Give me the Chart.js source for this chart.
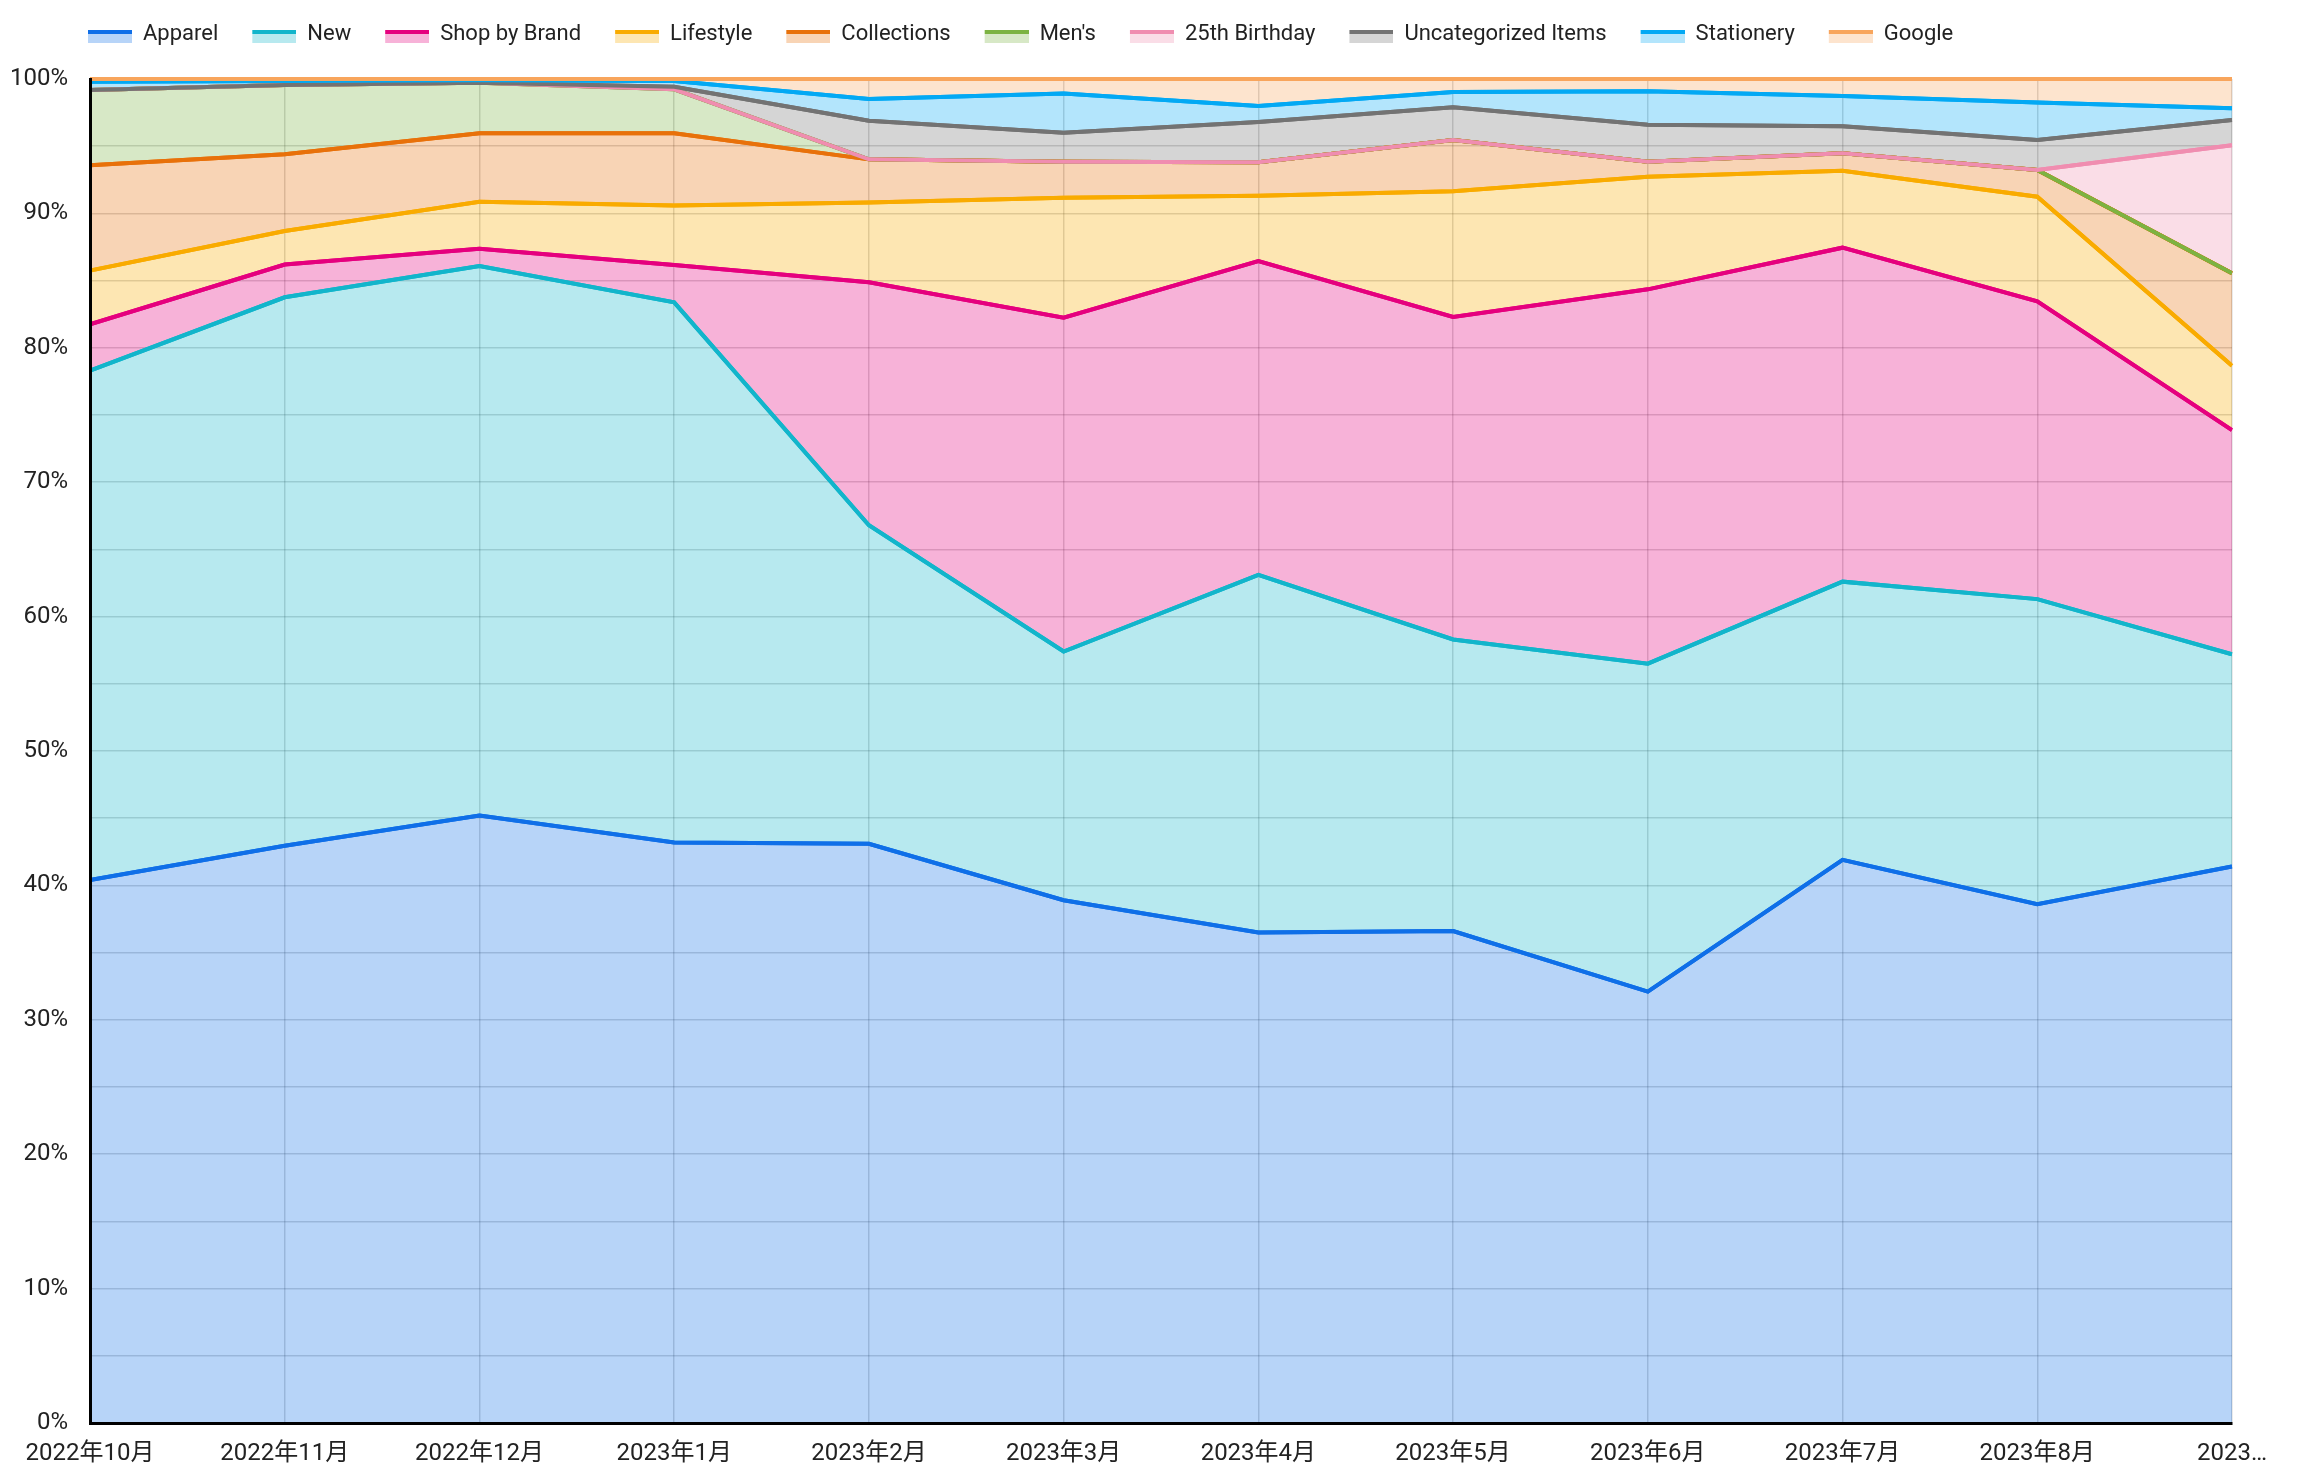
<!DOCTYPE html>
<html>
<head>
<meta charset="utf-8">
<title>Category share by month</title>
<script src="https://cdn.jsdelivr.net/npm/chart.js@4.4.1/dist/chart.umd.min.js"></script>
<style>
  html, body { margin: 0; padding: 0; background: #fff; }
  canvas { display: block; }
</style>
</head>
<body>
<canvas id="chart" width="2304" height="1472"></canvas>
<script>
// months on the x axis
const months = ['2022年10月', '2022年11月', '2022年12月', '2023年1月', '2023年2月', '2023年3月',
  '2023年4月', '2023年5月', '2023年6月', '2023年7月', '2023年8月', '2023年9月'];

// share of each category per month (%)
const apparel = [40.4, 42.95, 45.2, 43.2, 43.1, 38.9, 36.5, 36.6, 32.1, 41.9, 38.6, 41.4];
const newItems = [37.9, 40.81, 40.89, 40.18, 23.7, 18.5, 26.6, 21.7, 24.4, 20.7, 22.7, 15.8];
const shopByBrand = [3.45, 2.44, 1.28, 2.78, 18.07, 24.84, 23.36, 23.99, 27.85, 24.85, 22.16, 16.68];
const lifestyle = [3.99, 2.49, 3.5, 4.42, 5.95, 8.93, 4.86, 9.35, 8.38, 5.73, 7.78, 4.79];
const collections = [7.84, 5.71, 5.09, 5.38, 3.2, 2.68, 2.48, 3.82, 1.12, 1.29, 1.99, 6.87];
const mens = [5.6, 5.15, 3.77, 3.27, 0, 0, 0, 0, 0, 0, 0, 0];
const birthday25 = [0, 0, 0, 0, 0, 0, 0, 0, 0, 0, 0, 9.53];
const uncategorized = [0, 0, 0, 0.2, 2.88, 2.15, 3.0, 2.43, 2.75, 2.01, 2.23, 1.88];
const stationery = [0.62, 0.3, 0.17, 0.42, 1.61, 2.93, 1.19, 1.14, 2.48, 2.26, 2.8, 0.87];
const google = [0.2, 0.15, 0.1, 0.15, 1.49, 1.07, 2.01, 0.97, 0.92, 1.26, 1.74, 2.18];

const yTicks = [0, 10, 20, 30, 40, 50, 60, 70, 80, 90, 100];

const seriesNames = ['Apparel', 'New', 'Shop by Brand', 'Lifestyle', 'Collections', "Men's",
  '25th Birthday', 'Uncategorized Items', 'Stationery', 'Google'];
const seriesValues = [apparel, newItems, shopByBrand, lifestyle, collections, mens,
  birthday25, uncategorized, stationery, google];
const seriesColors = ['#0F6FE8', '#12B5CB', '#E5007E', '#F9AB00', '#E8710A', '#7CB342',
  '#F08DB0', '#737373', '#03A9F4', '#F8A55C'];

const FONT = "Roboto, 'Noto Sans CJK JP', sans-serif";

function rgba(hex, a) {
  const n = parseInt(hex.slice(1), 16);
  return `rgba(${n >> 16}, ${(n >> 8) & 255}, ${n & 255}, ${a})`;
}

// 100% stacked: turn each month into shares of its total
const totals = months.map((m, i) => seriesValues.reduce((s, arr) => s + arr[i], 0));

// legend swatch: line colour on top, fill colour below
function swatch(color) {
  const c = document.createElement('canvas');
  c.width = 68;
  c.height = 18;
  const g = c.getContext('2d');
  g.fillStyle = rgba(color, 0.3);
  g.fillRect(24, 5, 44, 13);
  g.fillStyle = color;
  g.fillRect(24, 5, 44, 4);
  return c;
}

const datasets = seriesNames.map((name, k) => ({
  label: name,
  data: seriesValues[k].map((v, i) => v / totals[i] * 100),
  borderColor: seriesColors[k],
  backgroundColor: rgba(seriesColors[k], 0.3),
  borderWidth: 4,
  pointRadius: 0,
  pointHoverRadius: 0,
  tension: 0,
  fill: k === 0 ? 'origin' : '-1',
  pointStyle: swatch(seriesColors[k])
}));

// draw the lines again so that later series sit on top, like the original
const lineOrder = {
  id: 'lineOrder',
  afterDatasetsDraw(chart) {
    const { ctx, chartArea: a } = chart;
    ctx.save();
    ctx.beginPath();
    ctx.rect(a.left, a.top - 3, a.right - a.left, a.bottom - a.top + 3);
    ctx.clip();
    chart.data.datasets.forEach((ds, i) => {
      chart.getDatasetMeta(i).dataset.draw(ctx, a);
    });
    ctx.restore();
  }
};

// fixed legend band height, and legend shifted to line up with the plot
const legendBox = {
  id: 'legendBox',
  beforeLayout(chart) {
    const lg = chart.legend;
    if (lg && !lg._fixed) {
      const fit = lg.fit;
      lg.fit = function () {
        fit.call(this);
        this.height = 66;
      };
      lg._fixed = true;
    }
  },
  afterLayout(chart) {
    chart.legend.left = 54;
  }
};

const gridColor = 'rgba(0, 0, 0, 0.17)';

new Chart(document.getElementById('chart'), {
  type: 'line',
  data: { labels: months, datasets },
  plugins: [legendBox, lineOrder],
  options: {
    responsive: false,
    animation: false,
    devicePixelRatio: 1,
    layout: { padding: { left: 0, right: 72, top: 13, bottom: 0 } },
    interaction: { mode: 'index', intersect: false },
    plugins: {
      tooltip: { enabled: false },
      filler: { drawTime: 'beforeDatasetsDraw' },
      legend: {
        position: 'top',
        align: 'start',
        labels: {
          usePointStyle: true,
          pointStyleWidth: 68,
          padding: 10,
          color: '#222',
          font: { family: FONT, size: 22 }
        }
      }
    },
    scales: {
      x: {
        type: 'category',
        offset: false,
        grid: { color: gridColor, lineWidth: 1.5, drawTicks: false },
        border: { color: '#000', width: 3, z: 1 },
        ticks: {
          autoSkip: false,
          maxRotation: 0,
          padding: 17,
          color: '#222',
          font: { family: FONT, size: 24 },
          callback: (v, i) => i === months.length - 1 ? months[i].slice(0, 4) + '…' : months[i]
        },
        afterFit(scale) {
          scale.height = 49;
          scale.paddingLeft = 0;
          scale.paddingRight = 0;
        }
      },
      y: {
        stacked: true,
        min: 0,
        max: 100,
        grid: { color: gridColor, lineWidth: 1.5, drawTicks: false },
        border: { color: '#000', width: 3, z: 1 },
        ticks: {
          stepSize: 5,
          padding: 22,
          color: '#222',
          font: { family: FONT, size: 24 },
          callback: v => yTicks.includes(v) ? v + '%' : ''
        },
        afterFit(scale) {
          scale.width = 90;
        }
      }
    }
  }
});
</script>
</body>
</html>
